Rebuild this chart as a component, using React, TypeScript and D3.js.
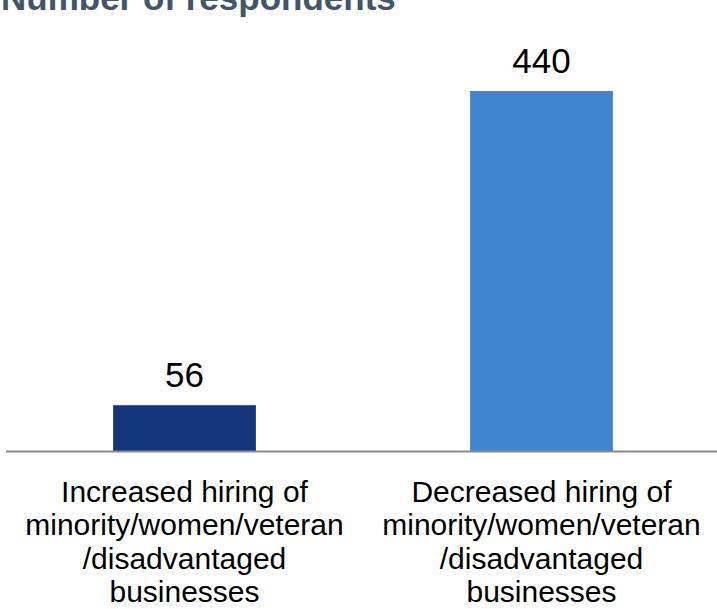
import { useEffect, useRef } from "react";
import * as d3 from "d3";

// chart data
const categories = ["Increased", "Decreased"];
const categoryLines = [
  ["Increased hiring of", "minority/women/veteran", "/disadvantaged", "businesses"],
  ["Decreased hiring of", "minority/women/veteran", "/disadvantaged", "businesses"],
];
const respondents = [56, 440];
const barColors = ["#16367B", "#4285CF"];
const title = "Number of respondents";

const W = 717;
const H = 609;

export default function App() {
  const svgRef = useRef<SVGSVGElement>(null);

  useEffect(() => {
    if (!svgRef.current) return;
    const svg = d3.select(svgRef.current);
    svg.selectAll("*").remove();

    const font = "Liberation Sans, Arial, sans-serif";
    const baseY = 451;

    const x = d3.scaleBand<string>()
      .domain(categories)
      .range([6, 720])
      .paddingInner(0.6)
      .paddingOuter(0.3);

    const y = d3.scaleLinear()
      .domain([0, 440])
      .range([baseY, 91]);

    // title (cut off at the top in the source)
    svg.append("text")
      .attr("x", 1)
      .attr("y", 10)
      .attr("fill", "#44546A")
      .attr("font-family", font)
      .attr("font-weight", "bold")
      .attr("font-size", "35px")
      .text(title);

    // bars
    svg.selectAll("rect.bar")
      .data(respondents)
      .join("rect")
      .attr("class", "bar")
      .attr("x", (_, i) => x(categories[i]) ?? 0)
      .attr("y", (d) => y(d))
      .attr("width", x.bandwidth())
      .attr("height", (d) => baseY - y(d))
      .attr("fill", (_, i) => barColors[i]);

    // axis line
    svg.append("line")
      .attr("x1", 6)
      .attr("x2", W)
      .attr("y1", baseY + 0.5)
      .attr("y2", baseY + 0.5)
      .attr("stroke", "#898989")
      .attr("stroke-width", 2);

    // value labels
    svg.selectAll("text.value")
      .data(respondents)
      .join("text")
      .attr("class", "value")
      .attr("x", (_, i) => (x(categories[i]) ?? 0) + x.bandwidth() / 2)
      .attr("y", (d) => y(d) - 18)
      .attr("text-anchor", "middle")
      .attr("font-family", font)
      .attr("font-size", "35px")
      .attr("fill", "#000")
      .text((d) => d);

    // category labels
    categories.forEach((c, i) => {
      const cx = (x(c) ?? 0) + x.bandwidth() / 2;
      svg.append("text")
        .attr("text-anchor", "middle")
        .attr("font-family", font)
        .attr("font-size", "30px")
        .attr("fill", "#000")
        .selectAll("tspan")
        .data(categoryLines[i])
        .join("tspan")
        .attr("x", cx)
        .attr("y", (_, j) => 502 + j * 33.3)
        .text((d) => d);
    });
  }, []);

  return (
    <svg
      ref={svgRef}
      width={W}
      height={H}
      style={{ position: "absolute", left: 0, top: 0, background: "#fff" }}
    />
  );
}
